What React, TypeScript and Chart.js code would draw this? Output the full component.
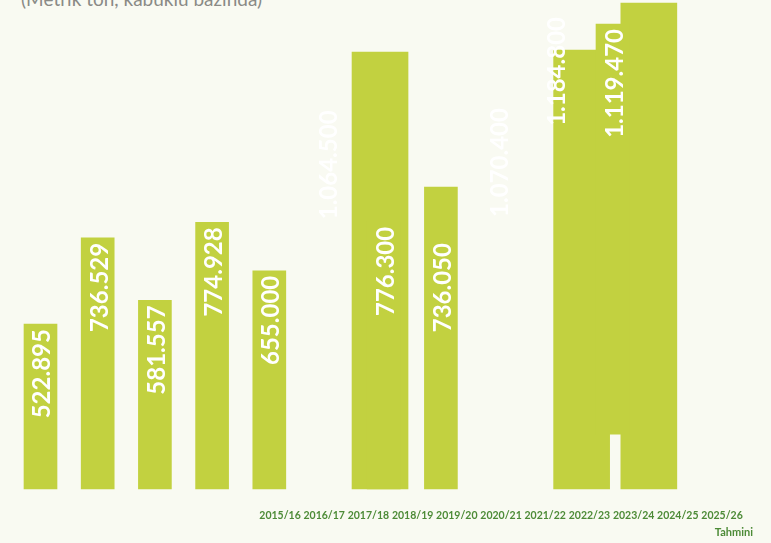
import React, { useEffect, useRef } from 'react';
import { Chart, registerables } from 'chart.js';

Chart.register(...registerables);

// Marketing years (x axis)
const years = ['2015/16', '2016/17', '2017/18', '2018/19', '2019/20', '2020/21', '2021/22', '2022/23', '2023/24', '2024/25', '2025/26'];
// Production values printed on the bars (metric tons, in-shell)
const production = [522895, 736529, 581557, 774928, 655000, 1064500, 776300, 736050, 1070400, 1184800, 1119470];
// Narrow bars as they are drawn in the picture (null = no bar drawn)
const barTops = [522895, 736529, 581557, 774928, 655000, null, 776300, 862200, null, null, 1266100];
const barBases = [null, null, null, null, null, null, null, null, null, null, 250200];
// Level at which each value label starts
const labelLevels = [522895, 736529, 581557, 774928, 655000, 1064500, 776300, 736050, 1070400, 1295800, 1266100];
// Wide bars of the second layer
const wideTops = [null, null, null, null, null, null, 1196700, null, null, 1201700, 1318100];

const subtitle = '(Metrik ton, kabuklu bazında)';
const estimateNote = 'Tahmini';

const BAR_COLOR = '#C2D140';
const BG = '#F9FAF2';
const GREEN_TEXT = '#4D8B37';

const fmt = (v: number) => String(v).replace(/\B(?=(\d{3})+(?!\d))/g, '.');

const valueLabels = {
  id: 'valueLabels',
  afterDatasetsDraw(chart: any) {
    const { ctx } = chart;
    const x = chart.scales.x;
    const y = chart.scales.y;
    ctx.save();
    ctx.font = 'bold 24px Lato';
    ctx.fillStyle = '#FFFFFF';
    ctx.textAlign = 'right';
    ctx.textBaseline = 'alphabetic';
    production.forEach((v, i) => {
      const px = x.getPixelForValue(i);
      const py = y.getPixelForValue(labelLevels[i]);
      ctx.save();
      ctx.translate(px, py + 5);
      ctx.rotate(-Math.PI / 2);
      ctx.fillText(fmt(v), 0, 10);
      ctx.restore();
    });
    ctx.restore();
  },
};

const noPad = (s: any) => {
  s.paddingLeft = 0;
  s.paddingRight = 0;
};

export default function App() {
  const ref = useRef<HTMLCanvasElement | null>(null);

  useEffect(() => {
    if (!ref.current) return;
    const mainData: any[] = [];
    years.forEach((_, i) => {
      const t = barTops[i];
      if (t == null) return;
      const b = barBases[i];
      mainData.push({ x: i, y: b != null ? [b, t] : t });
    });
    const wideData: any[] = [];
    years.forEach((_, i) => {
      const t = wideTops[i];
      if (t == null) return;
      wideData.push({ x: i, y: t });
    });

    const chart = new Chart(ref.current, {
      type: 'bar',
      data: {
        datasets: [
          {
            label: 'Üretim',
            data: mainData,
            xAxisID: 'x',
            backgroundColor: BAR_COLOR,
            barThickness: 33,
            grouped: false,
            borderWidth: 0,
          } as any,
          {
            label: 'Üretim (2)',
            data: wideData,
            xAxisID: 'x2',
            backgroundColor: BAR_COLOR,
            barThickness: 56,
            grouped: false,
            borderWidth: 0,
          } as any,
        ],
      },
      options: {
        animation: false,
        responsive: false,
        devicePixelRatio: 1,
        layout: { padding: { left: 0, right: 18, top: 0, bottom: 0 } },
        plugins: {
          legend: { display: false },
          tooltip: { enabled: false },
        },
        scales: {
          x: { type: 'linear', display: false, offset: false, min: -0.708, max: 12.456 },
          x2: { type: 'linear', display: false, offset: false, min: 0.345, max: 11.55 },
          xYears: {
            type: 'linear',
            position: 'bottom',
            offset: false,
            min: -6.335,
            max: 10.701,
            grid: {
              display: true,
              drawOnChartArea: false,
              drawTicks: true,
              tickLength: 20,
              color: 'rgba(0,0,0,0)',
              offset: false,
            },
            border: { display: false },
            afterBuildTicks: (s: any) => {
              s.ticks = years.map((_, i) => ({ value: i }));
            },
            afterFit: noPad,
            ticks: {
              autoSkip: false,
              maxRotation: 0,
              minRotation: 0,
              padding: 0,
              color: GREEN_TEXT,
              font: { family: 'Lato', weight: 'bold', size: 10.5 },
              callback: (v: any) => years[v] ?? '',
            },
            title: {
              display: true,
              text: estimateNote,
              align: 'end',
              color: GREEN_TEXT,
              font: { family: 'Lato', weight: 'bold', size: 11 },
              padding: { top: 4, bottom: 4 },
            },
          },
          y: { type: 'linear', display: false, min: 114000, max: 1325600 },
        } as any,
      },
      plugins: [valueLabels],
    });
    return () => chart.destroy();
  }, []);

  return (
    <div
      style={{
        position: 'fixed',
        left: 0,
        top: 0,
        width: 771,
        height: 543,
        overflow: 'hidden',
        background: BG,
      }}
    >
      <div
        style={{
          position: 'absolute',
          left: 21,
          top: -11,
          fontFamily: 'Lato, sans-serif',
          fontSize: 19,
          lineHeight: '19px',
          color: '#8A8A86',
          whiteSpace: 'nowrap',
        }}
      >
        {subtitle}
      </div>
      <canvas ref={ref} width={771} height={543} style={{ position: 'absolute', left: 0, top: 0 }} />
    </div>
  );
}
